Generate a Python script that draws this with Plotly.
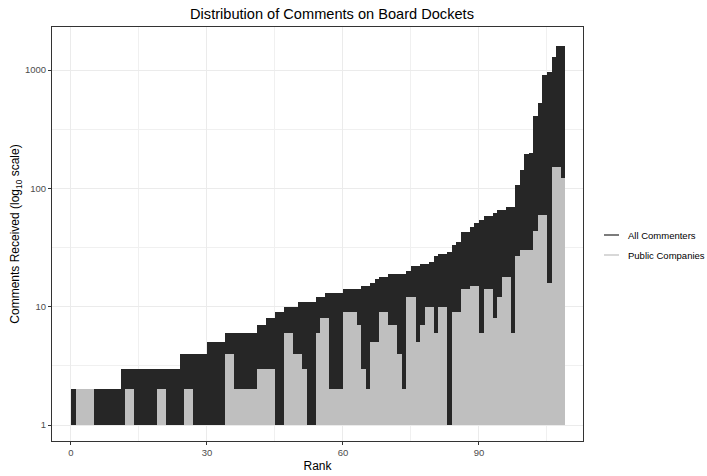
import numpy as np
import plotly.graph_objects as go

# Rank of each docket (0-based) and comment counts
ranks = list(range(109))

all_commenters = (
    [2] * 11 + [3] * 13 + [4] * 6 + [5] * 4 + [6] * 7 + [7] * 2 + [8] * 2 + [9] * 2 +
    [10] * 3 + [11] * 4 + [12] * 2 + [13] * 4 + [14] * 4 + [15] * 2 + [16] + [17] +
    [18] * 2 + [19] * 4 + [20] + [22] * 2 + [23] * 2 + [24] + [27] + [28] * 2 + [29] +
    [33] + [35] + [43] * 2 + [47] + [51] + [54] + [58] * 2 + [62] + [66] * 2 + [70] * 2 +
    [106, 143, 194, 199, 409, 524, 908, 958, 1298, 1600, 1600]
)

public_companies = (
    [1] + [2] * 4 + [1] * 7 + [2] * 2 + [1] * 5 + [2] * 2 + [1] * 4 + [2] * 2 + [1] * 7 +
    [4] * 2 + [2] * 5 + [3] * 4 + [1] * 2 + [6] * 2 + [4] * 2 + [3] + [1] * 2 + [6] +
    [8] * 2 + [2] * 3 + [9] * 3 + [7] + [3] + [2] + [5] * 2 + [9] * 2 + [7] * 2 + [4] +
    [2] + [12] * 2 + [5] + [7] + [10] * 2 + [6] + [10] * 2 + [1] + [9] * 2 + [14] * 2 +
    [15] * 2 + [6] + [14] * 2 + [8] + [12] + [18] * 2 + [6] + [27] + [30] * 3 + [44] +
    [60] * 2 + [16] + [151] * 2 + [123]
)

series_names = ["All Commenters", "Public Companies"]
x_ticks = [0, 30, 60, 90]
y_ticks = [1, 10, 100, 1000]
y_tick_text = ["1", "10", "100", "1000"]

DARK = "#262626"
LIGHT = "#BFBFBF"
FONT = "Liberation Sans, Arial, Helvetica, sans-serif"

W, H = 707, 476
L, R, T, B = 52, 583, 27, 441  # panel edges in pixels


def px_x(p):
    return (p - L) / (R - L)


def px_y(p):
    return (B - p) / (B - T)


base_val = 1
all_arr = np.array(all_commenters, dtype=float)
pub_arr = np.array(public_companies, dtype=float)

fig = go.Figure()
fig.add_trace(go.Bar(
    x=ranks, y=all_arr - base_val, base=base_val, width=1, offset=0,
    marker=dict(color=DARK, line=dict(width=0)), showlegend=False,
    name=series_names[0],
))
fig.add_trace(go.Bar(
    x=ranks, y=pub_arr - base_val, base=base_val, width=1, offset=0,
    marker=dict(color=LIGHT, line=dict(width=0)), showlegend=False,
    name=series_names[1],
))

# legend drawn by hand: line keys + labels, as in the original
shapes = []
annotations = []
for name, col, py in zip(series_names, [DARK, LIGHT], [235, 255]):
    shapes.append(dict(type="line", xref="paper", yref="paper",
                       x0=px_x(604), x1=px_x(619), y0=px_y(py), y1=px_y(py),
                       line=dict(color=col, width=1.2)))
    annotations.append(dict(text=name, xref="paper", yref="paper",
                            x=px_x(626), y=px_y(py), xanchor="left", yanchor="middle",
                            showarrow=False,
                            font=dict(size=9.5, color="black", family=FONT)))

fig.update_layout(
    width=W, height=H,
    margin=dict(l=L, r=W - R, t=T, b=H - B, autoexpand=False),
    paper_bgcolor="white", plot_bgcolor="white",
    barmode="overlay", bargap=0, showlegend=False,
    font=dict(family=FONT, color="black"),
    title=dict(text="Distribution of Comments on Board Dockets",
               x=px_x(332), xref="paper", xanchor="center",
               y=1 - 14 / H, yref="container", yanchor="middle",
               font=dict(size=14.6, color="black", family=FONT)),
    shapes=shapes,
    annotations=annotations,
    xaxis=dict(
        range=[-4.19, 112.95], tickvals=x_ticks, ticktext=[str(t) for t in x_ticks],
        showgrid=True, gridcolor="#EBEBEB", gridwidth=1,
        minor=dict(tickvals=[15, 45, 75, 105], showgrid=True, gridcolor="#F0F0F0", gridwidth=0.6),
        ticks="outside", ticklen=3, tickcolor="#333333", tickwidth=1,
        tickfont=dict(size=9.5, color="#4D4D4D", family=FONT),
        showline=True, mirror=True, linecolor="#333333", linewidth=1,
        zeroline=False, automargin=False,
        title=dict(text="Rank", font=dict(size=12, color="black", family=FONT), standoff=4),
    ),
    yaxis=dict(
        type="log", range=[-0.135, 3.364],
        tickvals=y_ticks, ticktext=y_tick_text,
        showgrid=True, gridcolor="#EBEBEB", gridwidth=1,
        minor=dict(tickvals=[10 ** 0.5, 10 ** 1.5, 10 ** 2.5], showgrid=True,
                   gridcolor="#F0F0F0", gridwidth=0.6),
        ticks="outside", ticklen=3, tickcolor="#333333", tickwidth=1,
        tickfont=dict(size=9.5, color="#4D4D4D", family=FONT),
        showline=True, mirror=True, linecolor="#333333", linewidth=1,
        zeroline=False, automargin=False,
        title=dict(text="Comments Received (log<sub>10</sub> scale)",
                   font=dict(size=12, color="black", family=FONT), standoff=2),
    ),
)

fig.write_html("out.html",
               config={"displayModeBar": False},
               post_script="document.body.style.margin='0';document.body.style.padding='0';")
